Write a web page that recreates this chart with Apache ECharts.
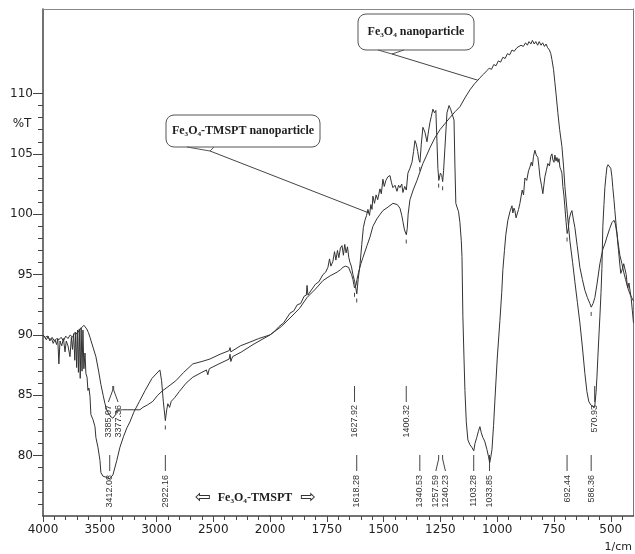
<!DOCTYPE html>
<html><head><meta charset="utf-8">
<script src="https://cdn.jsdelivr.net/npm/echarts@6/dist/echarts.min.js"></script>
<style>html,body{margin:0;padding:0;background:#fff}#c{width:635px;height:554px}</style>
</head><body><div id="c"></div>
<script>
// ---- DATA ----
// Fe3O4 nanoparticle (wavenumber 1/cm, %T)
const S_WN = [4000,3980,3960,3940,3920,3900,3880,3860,3840,3820,3800,3780,3760,3740,3720,3700,3680,3660,3640,3630,3615,3600,3586,3560,3534,3510,3490,3470,3454,3437,3410,3385,3377,3360,3349,3300,3252,3200,3146,3120,3080,3032,2990,2944,2900,2830,2760,2680,2600,2530,2440,2360,2352,2345,2260,2178,2100,2000,
1950,1912,1870,1837,1800,1767,1735,1705,1690,1679,1668,1661,1654,1648,1641,1635,1628,1622,1617,1610,1600,1591,1573,1560,1547,1530,1515,1503,1480,1459,1440,1428,1420,1415,1408,1400,1396,1392,1384,1370,1353,1340,1327,1310,1296,1275,1252,1230,1208,1185,1164,1140,1120,1100,1085,1076,1060,1045,1035,1025,1015,1005,995,985,975,965,955,945,935,925,913,905,895,885,875,867,860,852,845,837,830,822,815,807,800,792,785,778,770,764,759,752,746,740,733,725,715,708,702,691,680,668,658,647,636,625,614,605,597,588,580,571,565,561,557,552,548,543,539,535,530,526,521,517,512,508,504,500,495,491,486,482,476,469,460,451,443,435,425,416,408,400];
const S_T = [90.0,89.8,89.9,89.6,89.8,89.5,89.7,89.6,89.8,89.5,89.9,89.7,90.0,89.8,90.2,90.1,90.4,90.6,90.8,90.7,90.5,90.2,89.8,89.0,88.2,87.0,85.9,85.0,84.3,83.75,83.3,83.1,83.1,83.4,83.75,83.8,83.8,83.8,83.8,84.0,84.2,84.5,85.0,85.4,85.7,86.2,86.9,87.6,87.8,88.0,88.4,88.7,88.95,88.6,89.1,89.4,89.7,90.0,
90.7,91.4,92.2,93.1,93.8,94.5,94.9,95.2,95.4,95.6,95.7,95.8,95.6,95.3,95.0,94.6,93.9,94.1,94.6,95.2,95.9,96.4,97.4,98.1,99.0,99.6,100.0,100.3,100.6,100.9,100.8,100.5,99.9,99.4,98.7,98.3,98.8,100.0,101.2,102.0,102.8,103.5,104.2,104.9,105.5,106.3,107.0,107.5,108.0,108.5,108.9,109.7,110.3,110.8,111.1,111.3,111.6,111.9,112.1,112.0,112.4,112.3,112.7,112.6,113.0,112.9,113.3,113.2,113.6,113.5,113.8,113.7,114.0,113.9,114.2,114.0,114.3,114.1,114.4,114.1,114.3,114.0,114.3,114.0,114.2,113.9,114.1,113.8,113.6,113.3,112.8,112.0,110.9,109.8,108.4,107.0,105.6,104.0,102.3,100.0,97.8,96.0,94.4,92.7,91.0,89.0,86.8,85.3,84.5,84.2,84.1,84.0,85.2,86.5,88.1,90.0,91.5,93.5,95.5,99.0,100.8,102.2,103.2,103.9,104.1,104.1,104.0,103.8,103.1,102.2,101.2,100.3,99.0,97.8,96.6,95.9,95.2,94.6,93.9,93.4,93.1,92.8];

// Fe3O4-TMSPT nanoparticle
const T_WN = [4000,3985,3970,3955,3940,3925,3910,3895,3880,3870,3860,3850,3835,3820,3806,3795,3780,3762,3750,3740,3730,3720,3712,3704,3696,3688,3680,3672,3664,3656,3648,3640,3630,3622,3612,3604,3595,3586,3578,3568,3560,3550,3542,3534,3516,3498,3490,3472,3440,3412,3384,3350,3322,3290,3261,3234,3200,3150,3100,3040,2970,2955,2940,2922,2910,2900,2885,2870,2840,2800,2740,2680,2600,2560,2548,2535,2450,2360,2352,2345,2330,2250,2150,2000,
1980,1960,1940,1912,1895,1880,1865,1850,1840,1837,1833,1815,1800,1785,1767,1755,1745,1738,1732,1723,1716,1710,1703,1697,1690,1683,1677,1671,1665,1659,1653,1648,1642,1635,1627,1618,1612,1604,1596,1589,1582,1575,1569,1562,1556,1551,1547,1540,1533,1526,1516,1510,1503,1497,1490,1481,1472,1465,1459,1450,1441,1434,1428,1420,1415,1407,1400,1393,1384,1375,1368,1362,1356,1350,1344,1340,1334,1327,1318,1309,1302,1296,1290,1283,1276,1270,1265,1261,1257,1250,1244,1240,1236,1230,1221,1212,1205,1199,1190,1186,1182,1177,1170,1164,1158,1155,1151,1146,1142,1136,1129,1120,1112,1103,1098,1090,1083,1076,1070,1063,1055,1045,1038,1033,1028,1023,1016,1010,1000,988,980,975,968,962,953,944,935,931,926,922,917,913,906,900,890,884,878,870,862,856,850,845,840,834,828,821,816,812,805,799,794,790,784,777,770,764,759,755,750,746,741,737,732,728,724,720,715,711,706,702,697,692,687,683,680,676,671,665,658,648,636,625,614,603,592,586,578,570,560,548,535,525,517,505,495,486,480,473,466,460,456,452,447,443,438,432,428,425,420,416,410,405,400];
const T_T = [90.0,89.8,89.6,89.9,89.5,89.7,89.3,89.6,89.2,89.7,87.6,89.5,89.1,89.7,88.6,89.5,89.1,88.2,89.8,88.8,90.1,87.9,90.2,87.3,90.4,86.9,90.5,86.4,90.6,87.0,90.4,87.2,88.5,86.8,86.5,85.4,85.6,84.9,83.4,83.3,83.0,82.9,82.4,81.5,80.7,79.6,78.6,78.3,78.2,78.1,78.4,79.6,80.7,81.6,82.3,82.8,83.6,84.5,85.4,86.4,87.1,86.2,84.5,82.9,83.8,84.3,84.0,84.5,84.8,85.3,86.0,86.5,86.9,87.1,86.7,87.2,87.6,88.0,88.4,87.8,88.2,88.6,89.2,90.0,
90.3,90.7,91.0,91.8,92.0,92.5,92.6,93.2,93.3,94.1,93.3,93.8,94.2,94.4,95.0,95.2,95.6,96.3,95.7,96.1,96.9,96.2,97.0,96.4,97.2,97.4,96.6,97.5,96.8,97.3,96.4,96.0,95.7,95.0,94.4,93.4,94.6,95.8,97.5,98.9,99.5,99.9,100.4,99.9,100.8,100.4,101.5,100.9,101.6,101.2,102.1,101.7,102.9,102.3,102.8,103.1,103.2,102.6,102.2,102.4,101.9,102.4,102.2,102.5,101.8,102.3,102.0,103.4,103.8,104.3,105.2,106.1,105.8,105.2,104.5,104.3,105.8,107.2,106.8,106.0,106.9,107.6,108.1,108.7,108.4,108.6,106.0,103.8,102.8,103.4,103.2,102.7,103.6,105.5,108.4,109.0,108.7,108.6,107.8,104.0,100.9,100.6,100.2,99.3,97.8,96.5,91.5,88.0,85.4,82.8,81.3,80.9,80.7,80.4,81.0,81.5,82.0,82.4,81.9,81.5,81.2,80.5,79.9,79.4,79.9,80.5,82.5,84.6,88.0,91.2,93.5,95.4,97.0,98.3,99.5,100.2,100.7,100.1,100.5,100.3,99.7,99.8,100.4,100.9,102.0,101.6,103.0,102.8,103.6,103.9,104.3,104.0,104.8,105.3,104.9,104.7,103.9,103.1,102.4,101.7,102.5,103.1,103.6,104.2,104.0,104.8,105.0,104.5,104.3,104.9,104.4,104.7,104.3,104.6,103.9,103.7,103.4,102.3,101.5,100.6,99.4,98.4,98.8,99.6,99.5,100.1,100.3,99.6,98.9,97.4,95.6,94.6,93.7,93.1,92.6,92.3,92.6,93.1,94.3,95.9,97.1,97.6,98.1,98.8,99.3,99.5,99.2,98.4,97.0,95.8,95.1,95.3,95.6,95.9,95.9,95.0,94.2,93.9,94.3,94.3,93.0,92.0,91.0];

// Peak labels
const PEAKS_T = [3412.08, 2922.16, 1618.28, 1340.53, 1257.59, 1240.23, 1103.28, 1033.85, 692.44, 586.36];
const PEAKS_S = [3385.07, 3377.36, 1627.92, 1400.32, 570.93];
// Callout anchor points on the curves [wavenumber, %T]
const ANCHOR_S = [1085, 111.1];
const ANCHOR_T = [1564, 100.1];

// Tick labels
const X_LABELS_HIGH = [2500, 3000, 3500, 4000];
const X_LABELS_LOW = [500, 750, 1000, 1250, 1500, 1750, 2000];
const Y_LABELS = [80, 85, 90, 95, 100, 105, 110];

// ---- BUILD ----
const range = (a, b, s) => { const r = []; for (let v = a; v <= b + 1e-9; v += s) r.push(v); return r; };
const X_MINOR_HIGH = range(2000, 4000, 100);
const X_MINOR_LOW = range(450, 2000, 50);
const Y_MINOR = range(76, 110, 1);
const pairs = (wn, t, lo, hi) => wn.map((w, i) => [w, t[i]]).filter(p => p[0] >= lo && p[0] <= hi);

const AX = '#444';
const FONT = 'DejaVu Sans';
const plain = v => String(v);
const lineSeries = (name, data, xi, yi) => ({
  type: 'line', name, data, xAxisIndex: xi, yAxisIndex: yi, symbol: 'none', showSymbol: false,
  lineStyle: { color: '#333', width: 1 }, silent: true, animation: false
});
const xBase = (gi, min, max) => ({
  gridIndex: gi, type: 'value', min, max, inverse: true, splitLine: { show: false }
});

const option = {
  animation: false,
  backgroundColor: '#fff',
  grid: [
    { left: 43, top: 9, width: 227, height: 507, outerBoundsMode: 'none' },
    { left: 270, top: 9, width: 363.5, height: 507, outerBoundsMode: 'none' }
  ],
  xAxis: [
    Object.assign(xBase(0, 2000, 4000), { position: 'bottom',
      axisLine: { show: true, onZero: false, lineStyle: { color: AX, width: 1.5 } },
      axisTick: { show: true, customValues: X_MINOR_HIGH, length: 4, lineStyle: { color: AX } },
      axisLabel: { customValues: X_LABELS_HIGH, formatter: plain, margin: 8, color: '#222', fontFamily: FONT, fontSize: 12 } }),
    Object.assign(xBase(1, 400, 2000), { position: 'bottom',
      axisLine: { show: true, onZero: false, lineStyle: { color: AX, width: 1.5 } },
      axisTick: { show: true, customValues: X_MINOR_LOW, length: 4, lineStyle: { color: AX } },
      axisLabel: { customValues: X_LABELS_LOW, formatter: plain, margin: 8, color: '#222', fontFamily: FONT, fontSize: 12 } }),
    Object.assign(xBase(0, 2000, 4000), { position: 'bottom',
      axisLine: { show: false, onZero: false },
      axisTick: { show: true, customValues: [2000].concat(X_LABELS_HIGH), length: 6, lineStyle: { color: AX } },
      axisLabel: { show: false } }),
    Object.assign(xBase(1, 400, 2000), { position: 'bottom',
      axisLine: { show: false, onZero: false },
      axisTick: { show: true, customValues: X_LABELS_LOW, length: 6, lineStyle: { color: AX } },
      axisLabel: { show: false } }),
    Object.assign(xBase(0, 2000, 4000), { position: 'top',
      axisLine: { show: true, onZero: false, lineStyle: { color: '#888', width: 1 } },
      axisTick: { show: false }, axisLabel: { show: false } }),
    Object.assign(xBase(1, 400, 2000), { position: 'top',
      axisLine: { show: true, onZero: false, lineStyle: { color: '#888', width: 1 } },
      axisTick: { show: false }, axisLabel: { show: false } })
  ],
  yAxis: [
    { gridIndex: 0, type: 'value', min: 75, max: 117, position: 'left', splitLine: { show: false },
      axisLine: { show: true, onZero: false, lineStyle: { color: AX, width: 1.5 } },
      axisTick: { show: true, customValues: Y_MINOR, length: 5, lineStyle: { color: AX } },
      axisLabel: { customValues: Y_LABELS, formatter: plain, margin: 10, color: '#222', fontFamily: FONT, fontSize: 12 } },
    { gridIndex: 0, type: 'value', min: 75, max: 117, position: 'left', splitLine: { show: false },
      axisLine: { show: false, onZero: false },
      axisTick: { show: true, customValues: Y_LABELS, length: 10, lineStyle: { color: AX } },
      axisLabel: { show: false } },
    { gridIndex: 1, type: 'value', min: 75, max: 117, position: 'right', splitLine: { show: false },
      axisLine: { show: true, onZero: false, lineStyle: { color: '#777', width: 1 } },
      axisTick: { show: false }, axisLabel: { show: false } }
  ],
  series: [
    lineSeries('Fe3O4 nanoparticle', pairs(S_WN, S_T, 2000, 4000), 0, 0),
    lineSeries('Fe3O4 nanoparticle', pairs(S_WN, S_T, 0, 2000), 1, 2),
    lineSeries('Fe3O4-TMSPT nanoparticle', pairs(T_WN, T_T, 2000, 4000), 0, 0),
    lineSeries('Fe3O4-TMSPT nanoparticle', pairs(T_WN, T_T, 0, 2000), 1, 2)
  ]
};

const chart = echarts.init(document.getElementById('c'), null, { renderer: 'canvas' });
chart.setOption(option);

function xPix(w) { return chart.convertToPixel({ xAxisIndex: w >= 2000 ? 0 : 1 }, w); }
function yPix(v) { return chart.convertToPixel({ yAxisIndex: 0 }, v); }
function interp(wn, t, w) {
  for (let i = 0; i < wn.length - 1; i++) {
    const a = wn[i], b = wn[i + 1];
    if ((a - w) * (b - w) <= 0) { const f = a === b ? 0 : (w - a) / (b - a); return t[i] + f * (t[i + 1] - t[i]); }
  }
  return t[t.length - 1];
}
const G = [];
const stroke = { stroke: AX, lineWidth: 1 };
function line(x1, y1, x2, y2, st) { G.push({ type: 'line', silent: true, shape: { x1, y1, x2, y2 }, style: Object.assign({}, stroke, st || {}) }); }
function poly(points, st) { G.push({ type: 'polyline', silent: true, shape: { points }, style: Object.assign({ fill: null }, stroke, st || {}) }); }
function text(x, y, s, st, rot) {
  G.push({ type: 'text', silent: true, x, y, rotation: rot || 0,
    style: Object.assign({ text: s, fill: '#222', fontFamily: FONT, fontSize: 12, align: 'center', verticalAlign: 'middle' }, st || {}) });
}

function peakRow(peaks, wn, t, row) {
  const xs = peaks.map(xPix);
  const tx = xs.slice();
  for (let i = 0; i < xs.length - 1; i++) {
    if (Math.abs(xs[i + 1] - xs[i]) < 9) {
      const c = (xs[i] + xs[i + 1]) / 2; tx[i] = c - 4.8; tx[i + 1] = c + 4.8; i++;
    }
  }
  peaks.forEach((w, i) => {
    const x = xs[i];
    if (Math.abs(tx[i] - x) < 0.5) line(x, row.top, x, row.bot);
    else poly([[x, row.top], [x, row.top + 4], [tx[i], row.bot]]);
    text(tx[i], row.text, w.toFixed(2), { fontFamily: 'Liberation Sans', fontSize: 9, fill: '#333', align: 'right' }, Math.PI / 2);
    const yv = yPix(interp(wn, t, w));
    // small peak marker under the minimum, unless it would collide with the label row
    if (yv + 9 < row.top - 2) line(x, yv + 5, x, yv + 9);
  });
}
peakRow(PEAKS_T, T_WN, T_T, { top: 455, bot: 471, text: 475 });
peakRow(PEAKS_S, S_WN, S_T, { top: 386, bot: 402, text: 405 });

// callouts
const serif = { fontFamily: 'Liberation Serif', fontWeight: 'bold', fontSize: 12, fill: '#1e1e1e' };
G.push({ type: 'rect', silent: true, shape: { x: 358, y: 14, width: 116, height: 36, r: 8 }, style: { fill: '#fff', stroke: '#555', lineWidth: 1 } });
text(416, 32, 'Fe\u2083O\u2084 nanoparticle', serif);
poly([[378, 50], [392, 54], [404, 50]], { stroke: '#555' });
line(392, 54, xPix(ANCHOR_S[0]), yPix(ANCHOR_S[1]), { stroke: '#444' });

G.push({ type: 'rect', silent: true, shape: { x: 166, y: 115, width: 154, height: 32, r: 8 }, style: { fill: '#fff', stroke: '#555', lineWidth: 1 } });
text(243, 131, 'Fe\u2083O\u2084-TMSPT nanoparticle', serif);
poly([[187, 147], [210, 151], [214, 147]], { stroke: '#555' });
line(210, 151, xPix(ANCHOR_T[0]), yPix(ANCHOR_T[1]), { stroke: '#444' });

// bottom legend-like label
text(255, 498, 'Fe\u2083O\u2084-TMSPT', serif);
text(203, 498, '\u21E6', { fontFamily: 'DejaVu Sans', fontSize: 19, fill: '#333' });
text(308, 498, '\u21E8', { fontFamily: 'DejaVu Sans', fontSize: 19, fill: '#333' });

// axis titles
text(22, 124, '%T', { fontSize: 12, fill: '#222' });
text(632, 547, '1/cm', { fontSize: 11, fill: '#222', align: 'right' });

chart.setOption({ graphic: { elements: G } });
</script>
</body></html>
